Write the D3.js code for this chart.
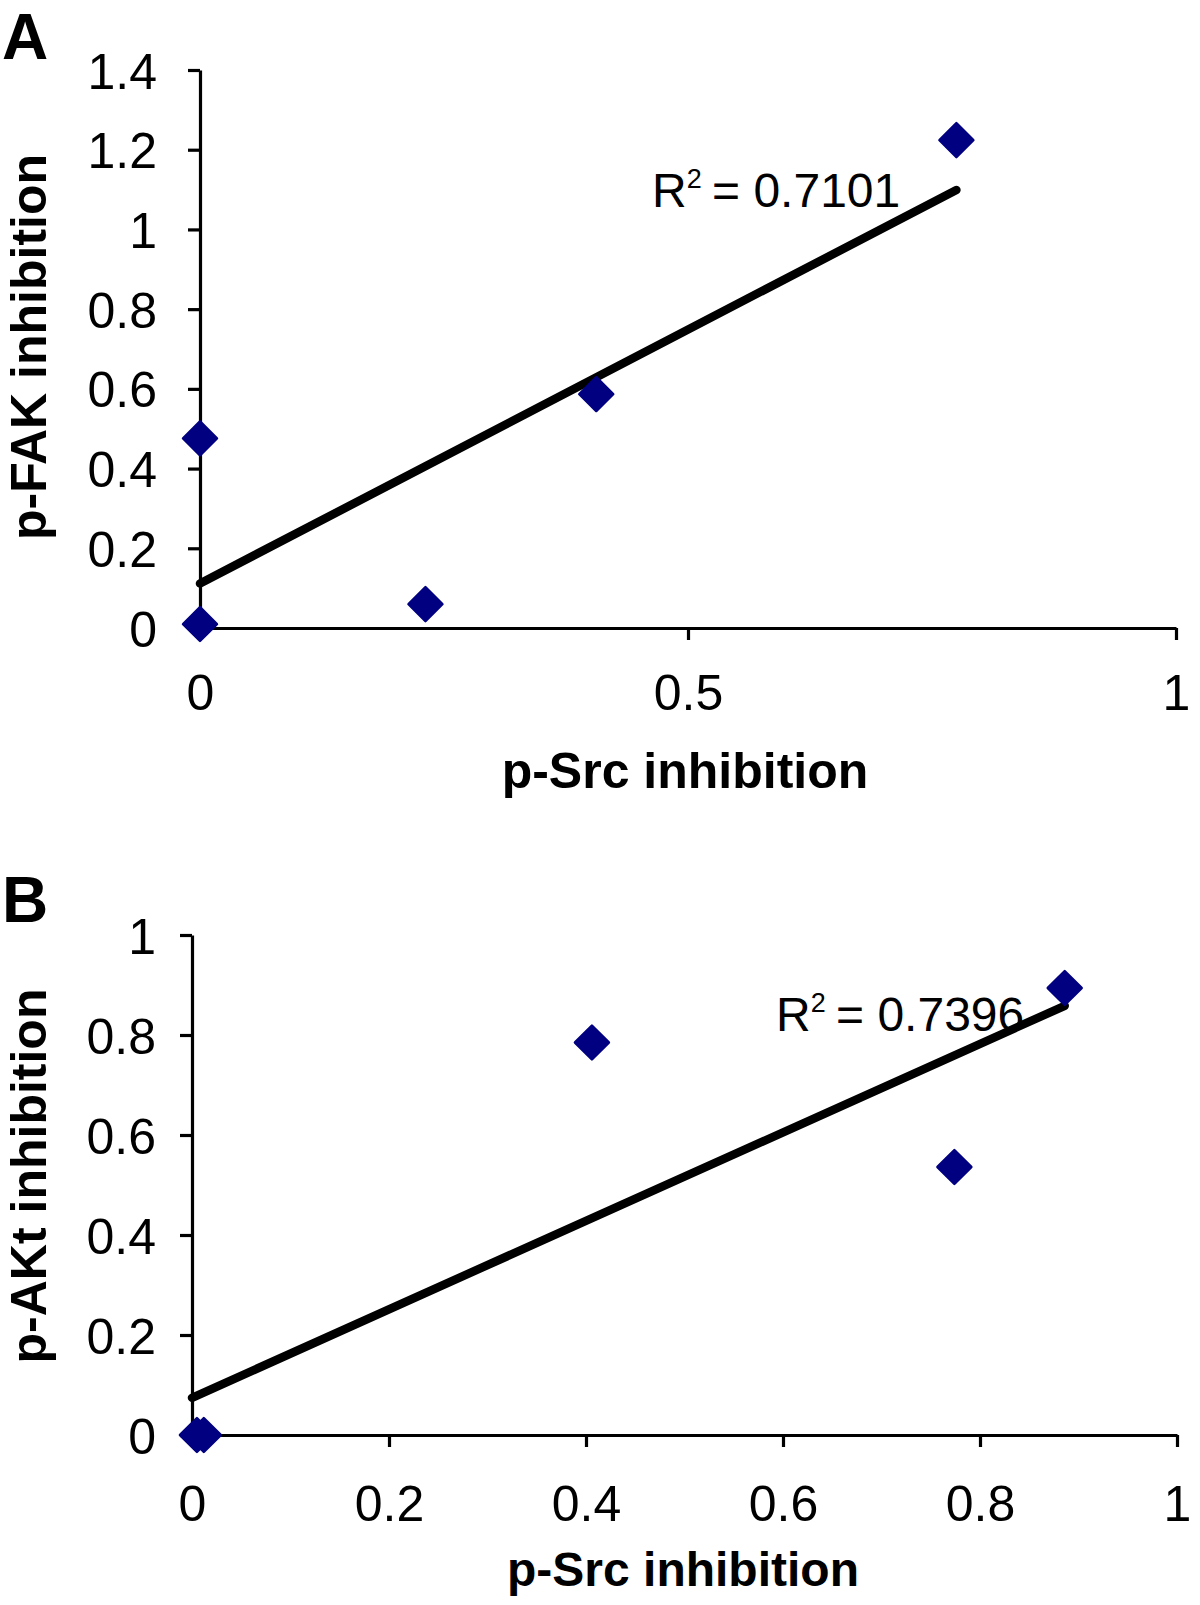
<!DOCTYPE html>
<html>
<head>
<meta charset="utf-8">
<script src="https://cdn.jsdelivr.net/npm/d3@7"></script>
<style>
  html, body { margin: 0; padding: 0; background: #fff; }
  svg { display: block; font-family: "Liberation Sans", Arial, Helvetica, sans-serif; }
</style>
</head>
<body>
<svg id="chart" width="1200" height="1605"></svg>
<script>
// ---------- Data ----------
// Panel A: p-Src inhibition vs p-FAK inhibition
const srcA = [0, 0, 0.231, 0.406, 0.775];
const fakA = [0.01, 0.476, 0.06, 0.587, 1.224];
const r2A = "0.7101";
const yTicksA = [0, 0.2, 0.4, 0.6, 0.8, 1, 1.2, 1.4];
const xTicksA = [0, 0.5, 1];

// Panel B: p-Src inhibition vs p-AKt inhibition
const srcB = [0.005, 0.012, 0.406, 0.774, 0.886];
const aktB = [0, 0, 0.785, 0.536, 0.894];
const r2B = "0.7396";
const yTicksB = [0, 0.2, 0.4, 0.6, 0.8, 1];
const xTicksB = [0, 0.2, 0.4, 0.6, 0.8, 1];

const panelLabels = ["A", "B"];
const xTitle = "p-Src inhibition";
const yTitles = ["p-FAK inhibition", "p-AKt inhibition"];

// ---------- Helpers ----------
function linreg(xs, ys) {
  const n = xs.length;
  const mx = d3.mean(xs), my = d3.mean(ys);
  let sxy = 0, sxx = 0;
  for (let i = 0; i < n; i++) { sxy += (xs[i]-mx)*(ys[i]-my); sxx += (xs[i]-mx)**2; }
  const slope = sxy / sxx;
  return { slope, intercept: my - slope * mx };
}

const svg = d3.select("#chart");
const fmt = d3.format("");

function drawPanel(cfg) {
  const g = svg.append("g");
  const x = d3.scaleLinear().domain([0, 1]).range([cfg.x0, cfg.x1]);
  const y = d3.scaleLinear().domain([0, cfg.yMax]).range([cfg.y0, cfg.y1]);

  // y axis
  const ya = g.append("g").attr("transform", `translate(${cfg.x0},0)`)
    .call(d3.axisLeft(y).tickValues(cfg.yTicks).tickFormat(fmt).tickSize(12).tickSizeOuter(0).tickPadding(cfg.yPad));
  // x axis
  const xa = g.append("g").attr("transform", `translate(0,${cfg.y0})`)
    .call(d3.axisBottom(x).tickValues(cfg.xTicks).tickFormat(fmt).tickSize(12).tickSizeOuter(0).tickPadding(cfg.xPad));
  [ya, xa].forEach(a => {
    a.select(".domain").attr("stroke", "#000").attr("stroke-width", 3.2);
    a.selectAll(".tick line").attr("stroke", "#000").attr("stroke-width", 3.2);
    a.selectAll(".tick text").attr("fill", "#000").style("font-size", "50px")
      .style("font-family", '"Liberation Sans", Arial, sans-serif');
  });
  ya.selectAll(".tick text").attr("dy", "0.36em");
  xa.selectAll(".tick text").attr("dy", "0.71em");

  // R² label
  const t = g.append("text").attr("x", cfg.r2x).attr("y", cfg.r2y)
    .style("font-size", "48px").attr("fill", "#000");
  t.append("tspan").text("R");
  t.append("tspan").attr("dy", -19).style("font-size", "27px").text("2");
  t.append("tspan").attr("dy", 19).attr("dx", -3).text(" = " + cfg.r2);

  // trend line
  const reg = linreg(cfg.xs, cfg.ys);
  const xmax = d3.max(cfg.xs);
  g.append("line")
    .attr("x1", x(0)).attr("y1", y(reg.intercept))
    .attr("x2", x(xmax)).attr("y2", y(reg.intercept + reg.slope * xmax))
    .attr("stroke", "#000").attr("stroke-width", 8.5).attr("stroke-linecap", "round");

  // points
  const sym = d3.symbol().type(d3.symbolSquare).size(24*24);
  g.selectAll("path.pt").data(cfg.xs.map((v, i) => [v, cfg.ys[i]])).join("path")
    .attr("class", "pt")
    .attr("d", sym)
    .attr("transform", d => `translate(${x(d[0])},${y(d[1])}) rotate(45)`)
    .attr("fill", "#000080").attr("stroke", "#000080").attr("stroke-width", 2.5).attr("stroke-linejoin", "round");

  // axis titles
  g.append("text").attr("x", cfg.xTitleX).attr("y", cfg.xTitleY).attr("text-anchor", "middle")
    .style("font-size", cfg.xTitleSize + "px").style("font-weight", "bold").attr("fill", "#000").text(xTitle);
  g.append("text").attr("transform", `translate(${cfg.yTitleX},${cfg.yTitleY}) rotate(-90)`)
    .attr("text-anchor", "middle")
    .style("font-size", "50px").style("font-weight", "bold").attr("fill", "#000").text(cfg.yTitle);

  // panel letter
  g.append("text").attr("x", 2).attr("y", cfg.letterY)
    .style("font-size", "64px").style("font-weight", "bold").attr("fill", "#000").text(cfg.letter);
}

drawPanel({
  x0: 200, x1: 1176, y0: 628, y1: 70, yMax: 1.4,
  yTicks: yTicksA, xTicks: xTicksA, yPad: 31, xPad: 34,
  xs: srcA, ys: fakA, r2: r2A, r2x: 652, r2y: 207,
  xTitleX: 685, xTitleY: 788, xTitleSize: 50,
  yTitle: yTitles[0], yTitleX: 46, yTitleY: 347,
  letter: panelLabels[0], letterY: 59
});

drawPanel({
  x0: 192, x1: 1177, y0: 1435, y1: 935, yMax: 1,
  yTicks: yTicksB, xTicks: xTicksB, yPad: 24, xPad: 38,
  xs: srcB, ys: aktB, r2: r2B, r2x: 776, r2y: 1031,
  xTitleX: 683, xTitleY: 1586, xTitleSize: 48,
  yTitle: yTitles[1], yTitleX: 46, yTitleY: 1176,
  letter: panelLabels[1], letterY: 922
});
</script>
</body>
</html>
